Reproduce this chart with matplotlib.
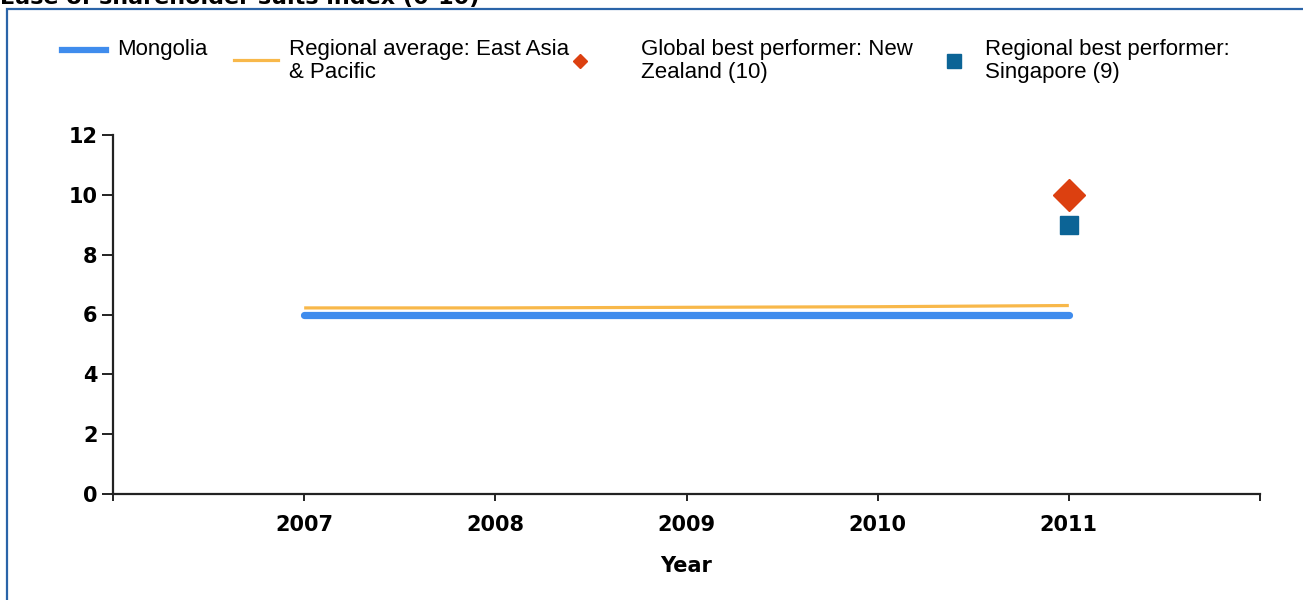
import matplotlib

matplotlib.use("Agg")
import matplotlib.pyplot as plt
from matplotlib.lines import Line2D
from matplotlib.patches import Rectangle

years = [2007, 2008, 2009, 2010, 2011]
mongolia = [6, 6, 6, 6, 6]
regional_avg = [6.22, 6.22, 6.24, 6.26, 6.3]
global_best_year = [2011]
global_best = [10]
regional_best_year = [2011]
regional_best = [9]

tick_years = [2006, 2007, 2008, 2009, 2010, 2011, 2012]
tick_labels = ["", "2007", "2008", "2009", "2010", "2011", ""]
y_ticks = [0, 2, 4, 6, 8, 10, 12]

C_MONGOLIA = "#3f8ced"
C_REGIONAL = "#f8b84a"
C_GLOBAL = "#dc4010"
C_REGBEST = "#0c6496"
C_FRAME = "#2a64a8"

W, H = 1303, 600
fig = plt.figure(figsize=(W / 100, H / 100), dpi=100)


def fx(px):
    return px / W


def fy(py):
    return 1 - py / H


# frame + title (cut off at the top edge, as in the source image)
fig.add_artist(Rectangle((fx(7), -0.1), 1.2, fy(9) + 0.1, transform=fig.transFigure,
                         fill=False, edgecolor=C_FRAME, linewidth=1.6))
fig.text(0, fy(4), "Ease of shareholder suits index (0-10)", fontsize=16,
         fontweight="bold", va="baseline", ha="left", family="DejaVu Sans")

ax = fig.add_axes([fx(113), fy(494), fx(1260) - fx(113), fy(135) - fy(494)])
ax.plot(years, regional_avg, color=C_REGIONAL, linewidth=2.3, solid_capstyle="butt", zorder=2)
ax.plot(years, mongolia, color=C_MONGOLIA, linewidth=5.2, solid_capstyle="round", zorder=3)
ax.plot(global_best_year, global_best, linestyle="none", marker="D", markersize=16,
        color=C_GLOBAL, zorder=4)
ax.plot(regional_best_year, regional_best, linestyle="none", marker="s", markersize=13,
        color=C_REGBEST, zorder=4)

ax.set_xlim(2006, 2012)
ax.set_ylim(0, 12)
ax.set_xticks(tick_years)
ax.set_xticklabels(tick_labels)
ax.set_yticks(y_ticks)
for s in ("top", "right"):
    ax.spines[s].set_visible(False)
for s in ("left", "bottom"):
    ax.spines[s].set_linewidth(1.6)
    ax.spines[s].set_color("#222222")
ax.tick_params(axis="y", length=8, width=1.4, color="#222222", pad=3)
ax.tick_params(axis="x", length=5, width=1.4, color="#222222", pad=10)
for lab in ax.get_xticklabels() + ax.get_yticklabels():
    lab.set_fontweight("bold")
    lab.set_fontsize(15)
    lab.set_family("DejaVu Sans")
ax.set_xlabel("Year", fontsize=15, fontweight="bold", family="DejaVu Sans", labelpad=15)

# legend
leg_font = dict(fontsize=16, family="Liberation Sans", va="top", ha="left", linespacing=1.12)
fig.add_artist(Line2D([fx(62), fx(106)], [fy(50), fy(50)], color=C_MONGOLIA, linewidth=4.5,
                      transform=fig.transFigure))
fig.text(fx(117), fy(39), "Mongolia", **leg_font)
fig.add_artist(Line2D([fx(234), fx(278)], [fy(60), fy(60)], color=C_REGIONAL, linewidth=2.3,
                      transform=fig.transFigure))
fig.text(fx(289), fy(39), "Regional average: East Asia\n& Pacific", **leg_font)
fig.add_artist(Line2D([fx(580)], [fy(61)], marker="D", markersize=7, color=C_GLOBAL,
                      linestyle="none", transform=fig.transFigure))
fig.text(fx(641), fy(39), "Global best performer: New\nZealand (10)", **leg_font)
fig.add_artist(Line2D([fx(954)], [fy(61)], marker="s", markersize=10, color=C_REGBEST,
                      linestyle="none", transform=fig.transFigure))
fig.text(fx(985), fy(39), "Regional best performer:\nSingapore (9)", **leg_font)

fig.savefig("out.png", dpi=100)
